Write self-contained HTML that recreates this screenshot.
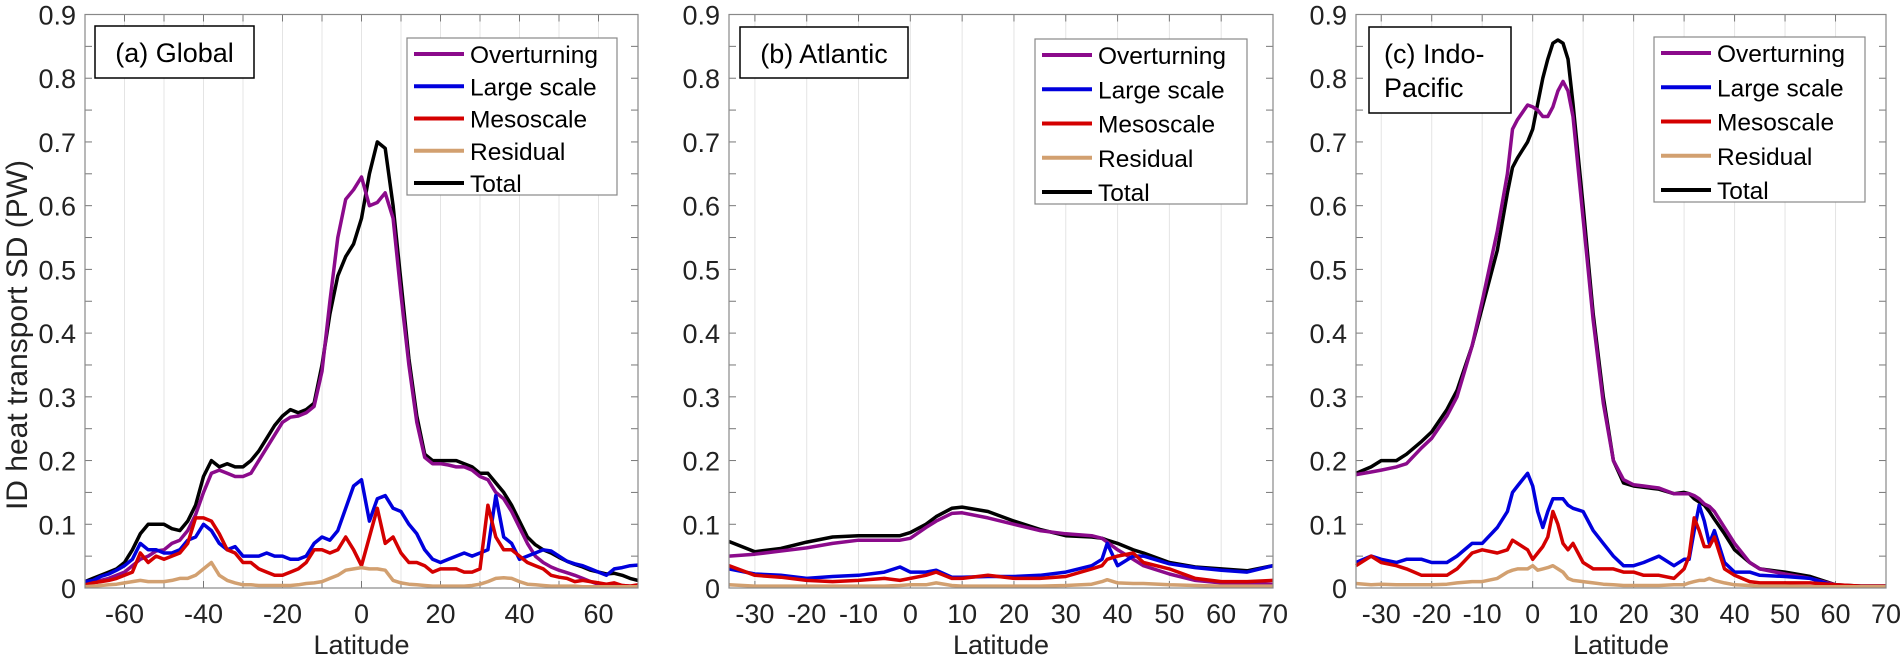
<!DOCTYPE html>
<html><head><meta charset="utf-8"><style>
html,body{margin:0;padding:0;background:#fff;}
svg{display:block;font-family:"Liberation Sans",Arial,sans-serif;}
</style></head><body>
<svg id="chart" width="1903" height="656" viewBox="0 0 1903 656">
<text transform="translate(27,335) rotate(-90)" text-anchor="middle" font-size="30" fill="#222">ID heat transport SD (PW)</text>
</svg>
<script>
// ---------- Panel (a) Global ----------
const latA = [-70,-68,-66,-64,-62,-60,-58,-56,-54,-52,-50,-48,-46,-44,-42,-40,-38,-36,-34,-32,-30,-28,-26,-24,-22,-20,-18,-16,-14,-12,-10,-8,-6,-4,-2,0,2,4,6,8,10,12,14,16,18,20,22,24,26,28,30,32,34,36,38,40,42,44,46,48,50,52,54,56,58,60,62,64,66,68,70];
const totalA = [.01,.015,.02,.025,.03,.04,.06,.085,.1,.1, .1,.093,.09,.105,.13,.175,.2,.19,.195,.19, .19,.2,.215,.235,.255,.27,.28,.275,.28,.29, .35,.43,.49,.52,.54,.58,.65,.7,.69,.6, .48,.36,.27,.21,.2,.2,.2,.2,.195,.19, .18,.18,.165,.15,.13,.105,.08,.068,.06,.055, .048,.042,.037,.033,.028,.025,.022,.023,.02,.015, .012];
const overA = [.005,.008,.012,.015,.02,.025,.035,.045,.05,.058, .06,.07,.075,.09,.115,.15,.18,.185,.18,.175, .175,.18,.2,.22,.24,.26,.268,.27,.275,.285, .34,.45,.55,.61,.625,.645,.6,.605,.62,.58, .46,.35,.26,.205,.195,.195,.193,.19,.19,.185, .175,.17,.15,.14,.12,.095,.07,.05,.04,.033, .028,.024,.02,.015,.01,.006,.004,.004,.004,.003, .003];
const largeA = [.01,.012,.018,.022,.028,.035,.045,.07,.06,.06, .055,.055,.06,.075,.08,.1,.09,.07,.06,.065, .05,.05,.05,.055,.05,.05,.045,.045,.05,.07, .08,.075,.09,.125,.16,.17,.105,.14,.145,.125, .12,.1,.085,.06,.045,.04,.045,.05,.055,.05, .055,.06,.145,.08,.07,.045,.05,.055,.06,.058, .05,.042,.038,.035,.03,.025,.02,.03,.032,.035, .036];
const mesoA = [.005,.008,.01,.012,.015,.02,.025,.055,.04,.05, .045,.05,.055,.07,.11,.11,.105,.085,.06,.055, .04,.04,.03,.025,.02,.02,.025,.03,.04,.06, .06,.055,.06,.08,.06,.035,.08,.125,.07,.08, .055,.04,.04,.035,.025,.03,.03,.03,.025,.025, .03,.13,.08,.06,.06,.05,.04,.035,.03,.02, .017,.015,.01,.012,.01,.008,.006,.008,.004,.003, .005];
const residA = [.002,.003,.004,.005,.006,.008,.01,.012,.01,.01, .01,.012,.015,.015,.02,.03,.04,.02,.012,.008, .005,.005,.004,.004,.004,.004,.004,.005,.007,.008, .01,.015,.02,.028,.03,.032,.03,.03,.028,.012, .008,.006,.005,.004,.003,.003,.003,.003,.003,.004, .006,.01,.015,.016,.015,.01,.006,.005,.004,.003, .003,.003,.003,.002,.002,.002,.002,.002,.002,.002, .002];
const xTicksA = [-60,-40,-20,0,20,40,60];
const xGridA = [-60,-50,-40,-30,-20,-10,0,10,20,30,40,50,60];

// ---------- Panel (b) Atlantic ----------
const latB = [-35,-30,-25,-20,-15,-10,-5,-2,0,3,5,8,10,15,20,25,30,35,37,38,40,43,45,50,55,60,65,70];
const totalB = [.073,.057,.062,.072,.08,.082,.082,.082,.087,.1, .112,.125,.127,.12,.105,.092,.082,.08,.078,.075, .07,.06,.055,.04,.033,.03,.027,.035];
const overB = [.05,.053,.058,.063,.07,.075,.075,.075,.078,.095, .105,.117,.118,.11,.1,.09,.085,.082,.078,.072, .06,.045,.035,.022,.012,.008,.006,.006];
const largeB = [.03,.022,.02,.015,.018,.02,.025,.033,.025,.025, .028,.017,.017,.018,.018,.02,.025,.035,.045,.07, .035,.05,.05,.038,.032,.028,.025,.035];
const mesoB = [.035,.02,.017,.012,.01,.012,.015,.012,.015,.02, .025,.015,.015,.02,.015,.015,.018,.03,.035,.045, .05,.055,.04,.03,.015,.01,.01,.012];
const residB = [.005,.003,.003,.003,.003,.003,.003,.004,.005,.005, .008,.004,.003,.003,.003,.003,.004,.006,.01,.013, .008,.007,.007,.005,.004,.003,.003,.003];
const xTicksBC = [-30,-20,-10,0,10,20,30,40,50,60,70];

// ---------- Panel (c) Indo-Pacific ----------
const latC = [-35,-32,-30,-27,-25,-22,-20,-17,-15,-12,-10,-7,-5,-4,-3,-1,0,1,2,3,4,5,6,7,8,10,12,14,16,18,20,22,25,28,30,31,32,33,34,35,36,38,40,43,45,50,55,60,65,70];
const totalC = [.18,.19,.2,.2,.21,.23,.245,.28,.31,.38, .44,.53,.62,.66,.675,.7,.72,.76,.8,.83, .855,.86,.855,.83,.76,.6,.43,.3,.2,.165, .16,.158,.155,.148,.15,.148,.14,.135,.13,.12, .108,.085,.06,.04,.03,.025,.018,.005,.003,.003];
const overC = [.178,.182,.185,.19,.195,.22,.235,.27,.3,.38, .45,.56,.65,.72,.735,.758,.755,.75,.74,.74, .755,.78,.795,.78,.74,.58,.42,.29,.2,.17, .162,.16,.157,.148,.148,.148,.145,.14,.132,.128, .12,.095,.07,.04,.03,.022,.015,.005,.002,.002];
const largeC = [.04,.05,.045,.04,.045,.045,.04,.04,.05,.07, .07,.095,.12,.15,.16,.18,.16,.12,.095,.12, .14,.14,.14,.13,.125,.12,.09,.07,.05,.035, .035,.04,.05,.035,.045,.045,.09,.13,.105,.07, .09,.04,.025,.025,.02,.018,.015,.003,.003,.003];
const mesoC = [.035,.05,.04,.035,.03,.02,.02,.02,.03,.055, .06,.055,.06,.075,.07,.06,.045,.055,.065,.08, .12,.1,.07,.06,.07,.04,.03,.03,.03,.025, .025,.02,.02,.015,.03,.05,.11,.09,.065,.065, .08,.03,.02,.01,.008,.008,.008,.005,.003,.003];
const residC = [.007,.005,.006,.005,.005,.005,.005,.006,.008,.01, .01,.015,.025,.028,.03,.03,.035,.028,.03,.032, .035,.03,.025,.015,.012,.01,.008,.006,.005,.004, .004,.004,.004,.005,.005,.008,.01,.012,.012,.015, .012,.008,.005,.004,.003,.003,.002,.002,.002,.002];

const yTicks = [0,0.1,0.2,0.3,0.4,0.5,0.6,0.7,0.8,0.9];
const yLabels = ["0","0.1","0.2","0.3","0.4","0.5","0.6","0.7","0.8","0.9"];
const seriesNames = ["Overturning","Large scale","Mesoscale","Residual","Total"];
const seriesColors = ["#8b0a8b","#0000dd","#d40000","#d2a070","#000000"];

const NS = "http://www.w3.org/2000/svg";
const svg = document.getElementById("chart");
function mk(tag, attrs, parent){
  const e = document.createElementNS(NS, tag);
  for (const k in attrs) e.setAttribute(k, attrs[k]);
  (parent||svg).appendChild(e);
  return e;
}

const panels = [
  {key:"global", L:85, R:638, xmin:-70, xmax:70, lat:latA, ser:[overA,largeA,mesoA,residA,totalA], ticks:xTicksA, grid:xGridA,
   title:["(a) Global"], tb:[95,26,159,52], lg:[407,38,210,157]},
  {key:"atlantic", L:729, R:1273, xmin:-35, xmax:70, lat:latB, ser:[overB,largeB,mesoB,residB,totalB], ticks:xTicksBC, grid:xTicksBC,
   title:["(b) Atlantic"], tb:[740,27,168,51], lg:[1035,39,212,165]},
  {key:"indo-pacific", L:1356, R:1886, xmin:-35, xmax:70, lat:latC, ser:[overC,largeC,mesoC,residC,totalC], ticks:xTicksBC, grid:xTicksBC,
   title:["(c) Indo-","Pacific"], tb:[1369,27,142,86], lg:[1654,37,211,165]}
];
const T = 14.5, B = 588, YMAX = 0.9;

panels.forEach(p => {
  const g = mk("g", {});
  
  
  const xs = v => p.L + (v - p.xmin) / (p.xmax - p.xmin) * (p.R - p.L);
  const ys = v => B - v / YMAX * (B - T);

  p.grid.forEach(v => {
    const gl = mk("line", {x1:xs(v), x2:xs(v), y1:T, y2:B, stroke:"#e4e4e4", "stroke-width":1}, g);
    
    
  });
  for (let i = 0; i <= 18; i++) {
    const y = ys(i * 0.05);
    mk("line", {x1:p.L, x2:p.L+7, y1:y, y2:y, stroke:"#777", "stroke-width":1}, g);
    mk("line", {x1:p.R-7, x2:p.R, y1:y, y2:y, stroke:"#777", "stroke-width":1}, g);
  }
  p.grid.forEach(v => {
    mk("line", {x1:xs(v), x2:xs(v), y1:B, y2:B-7, stroke:"#777", "stroke-width":1}, g);
    mk("line", {x1:xs(v), x2:xs(v), y1:T, y2:T+7, stroke:"#777", "stroke-width":1}, g);
  });
  yTicks.forEach((v, i) => {
    const t = mk("text", {x:p.L-9, y:ys(v)+10, "text-anchor":"end", "font-size":27, fill:"#222"}, g);
    t.textContent = yLabels[i];
    
    
  });
  p.ticks.forEach(v => {
    const t = mk("text", {x:xs(v), y:623, "text-anchor":"middle", "font-size":27, fill:"#222"}, g);
    t.textContent = String(v);
    
    
  });
  const xt = mk("text", {x:(p.L+p.R)/2, y:654, "text-anchor":"middle", "font-size":27, fill:"#222"}, g);
  xt.textContent = "Latitude";
  
  

  const order = [4,0,1,2,3];
  order.forEach(si => {
    const vals = p.ser[si];
    const d = vals.map((v, i) => (i ? "L" : "M") + xs(p.lat[i]).toFixed(1) + "," + ys(v).toFixed(1)).join(" ");
    const path = mk("path", {d:d, fill:"none", stroke:seriesColors[si], "stroke-width":3.5, "stroke-linejoin":"round"}, g);
    
    
  });

  const frame = mk("rect", {x:p.L, y:T, width:p.R-p.L, height:B-T, fill:"none", stroke:"#888", "stroke-width":1.2}, g);
  
  

  const tb = mk("rect", {x:p.tb[0], y:p.tb[1], width:p.tb[2], height:p.tb[3], fill:"#fff", stroke:"#000", "stroke-width":1.5}, g);
  
  
  p.title.forEach((line, i) => {
    const t = mk("text", {x: p.title.length > 1 ? p.tb[0]+15 : p.tb[0]+p.tb[2]/2, y:p.tb[1]+36+i*34, "text-anchor": p.title.length > 1 ? "start" : "middle", "font-size":27, fill:"#000"}, g);
    t.textContent = line;
    
    
  });

  const lg = mk("g", {}, g);
  
  
  mk("rect", {x:p.lg[0], y:p.lg[1], width:p.lg[2], height:p.lg[3], fill:"#fff", stroke:"#888", "stroke-width":1.2}, lg);
  const step = (p.lg[3] - 28) / 4;
  seriesNames.forEach((n, i) => {
    const y = p.lg[1] + 16 + i * step;
    const ln = mk("line", {x1:p.lg[0]+7, x2:p.lg[0]+57, y1:y, y2:y, stroke:seriesColors[i], "stroke-width":4}, lg);
    
    
    const t = mk("text", {x:p.lg[0]+63, y:y+9, "font-size":24.5, fill:"#000"}, lg);
    t.textContent = n;
    
    
  });
});
</script>
</body></html>
